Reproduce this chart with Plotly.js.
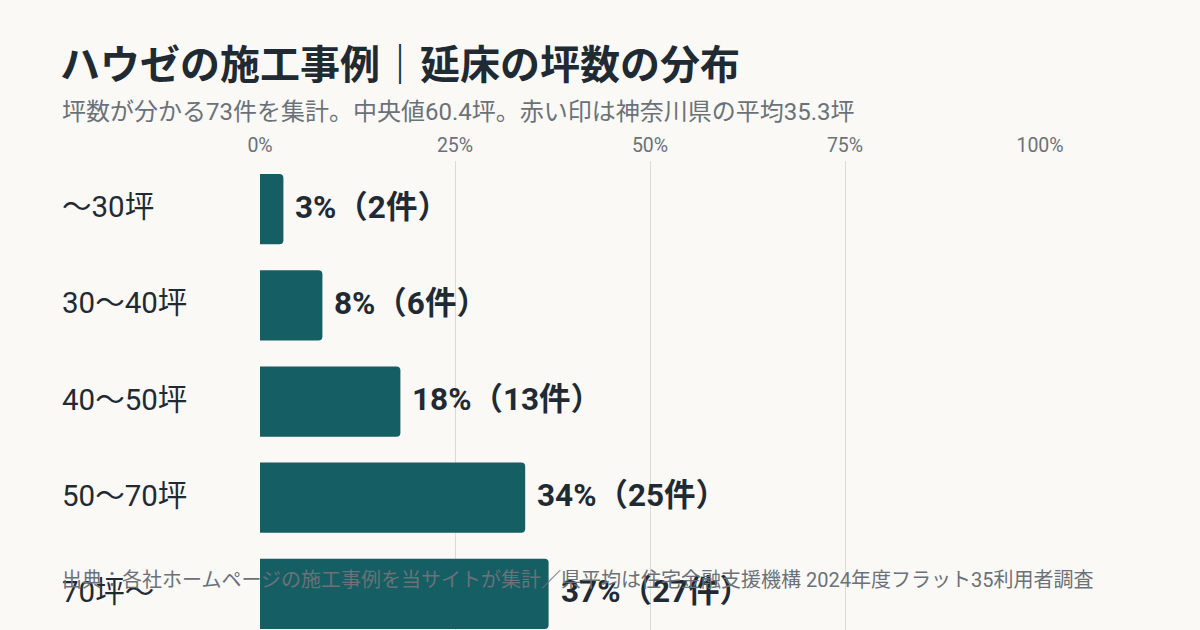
<!DOCTYPE html>
<html>
<head>
<meta charset="utf-8">
<script src="https://cdn.plot.ly/plotly-3.0.1.min.js"></script>
<style>
  html, body { margin: 0; padding: 0; background: #faf9f6; }
  #chart { width: 1200px; height: 630px; }
</style>
</head>
<body>
<div id="chart"></div>
<script>
// ------------------------------
// data
// ------------------------------
var categories = ['〜30坪', '30〜40坪', '40〜50坪', '50〜70坪', '70坪〜'];
var shares = [3, 8, 18, 34, 37];       // % of 73 cases
var counts = [2, 6, 13, 25, 27];       // number of cases
var tickValues = [0, 25, 50, 75, 100];
var tickLabels = ['0%', '25%', '50%', '75%', '100%'];

var FONT = 'Roboto, "Noto Sans CJK JP", sans-serif';
var DARK = '#1f2a33';
var GREY = '#6b7178';

var bars = {
  type: 'bar',
  orientation: 'h',
  x: shares,
  y: categories,
  marker: { color: '#155e63', line: { width: 0 } },
  hoverinfo: 'skip'
};

var annotations = [];

// category labels, left aligned
categories.forEach(function (c) {
  annotations.push({
    xref: 'paper', yref: 'y',
    x: -200 / 780, y: c,
    xanchor: 'left', yanchor: 'middle', yshift: 2,
    text: c, showarrow: false,
    font: { family: FONT, size: 29.5, color: DARK }
  });
});

// value labels next to each bar
categories.forEach(function (c, i) {
  annotations.push({
    xref: 'x', yref: 'y',
    x: shares[i], y: c,
    xanchor: 'left', yanchor: 'middle', xshift: 10, yshift: 2,
    text: '<b>' + shares[i] + '%（' + counts[i] + '件）</b>',
    showarrow: false,
    font: { family: FONT, size: 31.5, color: DARK }
  });
});

// subtitle
annotations.push({
  xref: 'paper', yref: 'paper',
  x: -200 / 780, y: 1 + (161 - 112) / 469,
  xanchor: 'left', yanchor: 'middle',
  text: '坪数が分かる73件を集計。中央値60.4坪。赤い印は神奈川県の平均35.3坪',
  showarrow: false,
  font: { family: FONT, size: 24, color: GREY }
});

// source note
annotations.push({
  xref: 'paper', yref: 'paper',
  x: -200 / 780, y: 1 - (580 - 161) / 469,
  xanchor: 'left', yanchor: 'middle',
  text: '出典：各社ホームページの施工事例を当サイトが集計／県平均は住宅金融支援機構 2024年度フラット35利用者調査',
  showarrow: false,
  font: { family: FONT, size: 20, color: GREY }
});

var layout = {
  width: 1200,
  height: 630,
  paper_bgcolor: '#faf9f6',
  plot_bgcolor: '#faf9f6',
  margin: { l: 260, r: 160, t: 161, b: 0, pad: 0 },
  showlegend: false,
  bargap: 0.27,
  barcornerradius: 4,
  font: { family: FONT, color: DARK },
  title: {
    text: '<b>ハウゼの施工事例｜延床の坪数の分布</b>',
    x: 60 / 1200, xanchor: 'left', xref: 'container',
    y: 1 - 65 / 630, yanchor: 'middle', yref: 'container',
    font: { family: FONT, size: 40, color: DARK }
  },
  xaxis: {
    side: 'top',
    range: [0, 100],
    tickvals: tickValues,
    ticktext: tickLabels,
    tickfont: { family: FONT, size: 19.5, color: GREY },
    ticklabelstandoff: 4,
    showgrid: true,
    gridcolor: '#dcdad5',
    gridwidth: 1,
    zeroline: false,
    showline: false,
    ticks: '',
    fixedrange: true
  },
  yaxis: {
    type: 'category',
    range: [4.375, -0.5],
    showticklabels: false,
    showgrid: false,
    zeroline: false,
    showline: false,
    ticks: '',
    fixedrange: true
  },
  annotations: annotations
};

Plotly.newPlot('chart', [bars], layout, { displayModeBar: false, staticPlot: true });
</script>
</body>
</html>
